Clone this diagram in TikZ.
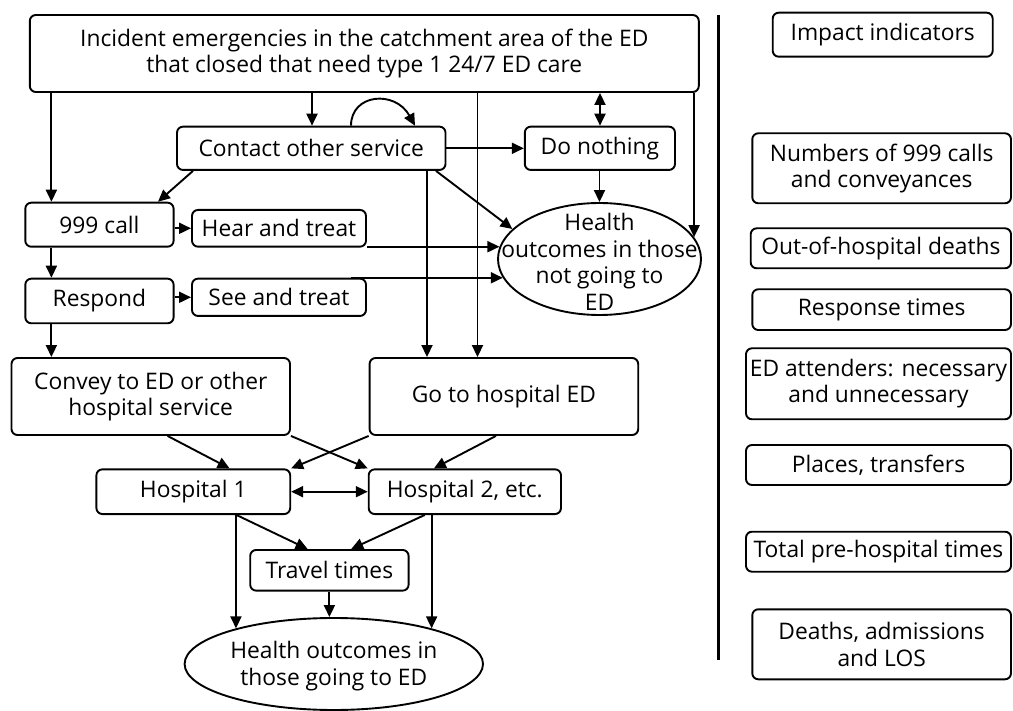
\documentclass[tikz,border=0pt]{standalone}
\usepackage{fontspec}
\setmainfont{Open Sans}
\usetikzlibrary{arrows.meta,shapes.geometric,calc}
\begin{document}
\begin{tikzpicture}[x=1pt,y=-1pt,
  every node/.style={font=\fontsize{22.8}{26.5}\selectfont},
  box/.style={draw, rounded corners=6pt, line width=1.9pt, align=center, inner sep=0pt},
  ell/.style={draw, ellipse, line width=1.9pt, inner sep=0pt},
  etext/.style={align=center, inner sep=0pt},
  tip/.style={},
  arr/.style={-{Triangle[length=12pt,width=11pt]}, line width=1.9pt},
  darr/.style={{Triangle[length=12pt,width=11pt]}-{Triangle[length=12pt,width=11pt]}, line width=1.9pt}]
\useasboundingbox (0,0) rectangle (1013,711);
% left diagram nodes
\node[box, minimum width=669pt, minimum height=77pt] (top) at (364.3,53.5)
  {Incident emergencies in the catchment area of the ED\\that closed that need type 1 24/7 ED care};
\node[box, minimum width=268.5pt, minimum height=43.3pt] (contact) at (311.25,148.3) {Contact other service};
\node[box, minimum width=150.2pt, minimum height=43.3pt] (nothing) at (599.9,148.3) {Do nothing};
\node[box, minimum width=148.3pt, minimum height=44pt] (call) at (99.45,224.7) {999 call};
\node[box, minimum width=174pt, minimum height=36.7pt] (hear) at (279,228.3) {Hear and treat};
\node[box, minimum width=148.3pt, minimum height=44.6pt] (respond) at (99.45,301) {Respond};
\node[box, minimum width=174pt, minimum height=37.3pt] (see) at (279,297.3) {See and treat};
\node[ell, minimum width=203pt, minimum height=112pt] (ell1) at (599.5,259) {};
\node[etext] (ell1t) at (599.5,262) {Health\\outcomes in those\\not going to\\ED};
\node[box, minimum width=278.5pt, minimum height=77pt] (convey) at (150.75,396.5) {Convey to ED or other\\hospital service};
\node[box, minimum width=268.6pt, minimum height=77pt] (go) at (503.9,396.5) {Go to hospital ED};
\node[box, minimum width=193.8pt, minimum height=44.7pt] (h1) at (193.3,491.7) {Hospital 1};
\node[box, minimum width=192.3pt, minimum height=44.7pt] (h2) at (464.85,491.7) {Hospital 2, etc.};
\node[box, minimum width=158.4pt, minimum height=40.7pt] (travel) at (329.4,570.3) {Travel times};
\node[ell, minimum width=298.4pt, minimum height=92pt] (ell2) at (333.8,664) {};
\node[etext] (ell2t) at (333.8,666) {Health outcomes in\\those going to ED};
% right column
\node[box, minimum width=220pt, minimum height=44pt] (impact) at (882.7,34.7) {Impact indicators};
\node[box, minimum width=258.7pt, minimum height=70pt] (numbers) at (881.65,168.3) {Numbers of 999 calls\\and conveyances};
\node[box, minimum width=260.3pt, minimum height=40pt] (outof) at (880.85,248.3) {Out-of-hospital deaths};
\node[box, minimum width=258.7pt, minimum height=40.7pt] (resp) at (881.65,309.65) {Response times};
\node[box, minimum width=265pt, minimum height=71pt] (edatt) at (878.5,383.8) {ED attenders: necessary\\and unnecessary};
\node[box, minimum width=265pt, minimum height=40pt] (places) at (878.5,465) {Places, transfers};
\node[box, minimum width=265pt, minimum height=40pt] (total) at (878.5,551.7) {Total pre-hospital times};
\node[box, minimum width=258.7pt, minimum height=70pt] (deaths) at (881.65,644.3) {Deaths, admissions\\and LOS};
% separator
\coordinate (sepT) at (718,15);
\coordinate (sepB) at (718,660);
\draw[line width=3pt] (sepT) -- (sepB);
% helper x positions
\coordinate (c51) at (51.4,0);
\coordinate (c312) at (312,0);
\coordinate (c477) at (477.5,0);
\coordinate (c600) at (600,0);
\coordinate (c193) at (193,0);
\coordinate (c158) at (158,0);
\coordinate (c427) at (427,0);
\coordinate (c436) at (436,0);
\coordinate (c351) at (351,0);
\coordinate (c415) at (415,0);
\coordinate (c167) at (167.6,0);
\coordinate (c229) at (229.6,0);
\coordinate (c496) at (495.9,0);
\coordinate (c434) at (433.9,0);
\coordinate (c236) at (236.5,0);
\coordinate (c307) at (307.6,0);
\coordinate (c425) at (424.7,0);
\coordinate (c351b) at (351.2,0);
% arrows from top box
\draw[arr] (top.south -| c51) -- (call.north -| c51);
\draw[arr] (top.south -| c312) -- (contact.north -| c312);
\draw[arr] (top.south -| c477) -- (go.north -| c477);
\draw[darr] (top.south -| c600) -- (nothing.north -| c600);
\draw[arr] (top.south -| ell1.13.7) -- (ell1.13.7);
% contact other service
\draw[arr] (contact.north -| c351) .. controls ($(contact.north -| c351)+(0,-32)$) and ($(contact.north -| c415)+(-20,-36)$) .. (contact.north -| c415);
\draw[arr] (contact.east |- nothing.west) -- (nothing.west);
\draw[arr] (contact.south -| c193) -- (call.north -| c158);
\draw[arr] (contact.south -| c427) -- (go.north -| c427);
\draw[arr] (contact.south -| c436) -- (ell1.161);
\draw[arr] (nothing.south -| ell1.north) -- (ell1.north);
% 999 call chain
\draw[arr] (call.east |- hear.west) -- (hear.west);
\draw[arr] (hear.south east |- ell1.173) -- (ell1.173);
\draw[arr] (call.south -| c51) -- (respond.north -| c51);
\draw[arr] (respond.east |- see.west) -- (see.west);
\draw[arr] (c351 |- ell1.191) -- (ell1.191);
\draw[arr] (respond.south -| c51) -- (convey.north -| c51);
% to hospitals
\draw[arr] (convey.south -| c167) -- (h1.north -| c229);
\draw[arr] (convey.south east) -- (h2.north west);
\draw[arr] (go.south west) -- (h1.north east);
\draw[arr] (go.south -| c496) -- (h2.north -| c434);
\draw[darr] (h1.east) -- (h2.west);
% hospitals to outcomes
\draw[arr] (h1.south -| ell2.160.6) -- (ell2.160.6);
\draw[arr] (h1.south -| c236) -- (travel.north -| c307);
\draw[arr] (h2.south -| c425) -- (travel.north -| c351b);
\draw[arr] (h2.south -| ell2.20.3) -- (ell2.20.3);
\draw[arr] (travel.south) -- (travel.south |- ell2.north);
\end{tikzpicture}
\end{document}
